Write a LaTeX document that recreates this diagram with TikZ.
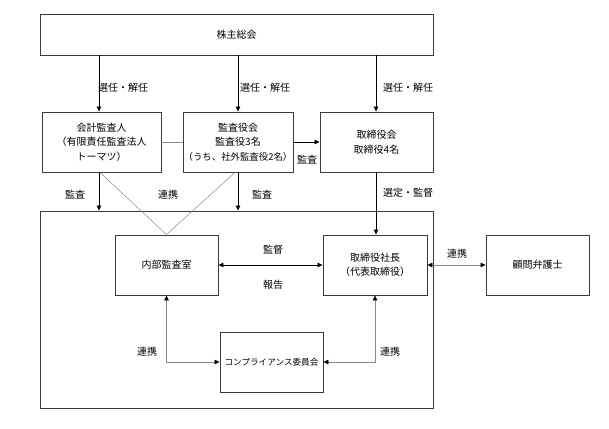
\documentclass[tikz,border=0pt]{standalone}
\usepackage{fontspec}
\newfontfamily\jp{Noto Sans CJK JP}
\usetikzlibrary{arrows.meta}
\definecolor{boxline}{HTML}{3A3A3A}
\definecolor{thin}{HTML}{8A8A8A}
\tikzset{
  box/.style={draw=boxline, line width=0.9pt, inner sep=0pt, align=center, font=\jp\fontsize{10}{14.5}\selectfont},
  lbl/.style={inner sep=0pt, font=\jp\fontsize{10}{12}\selectfont},
  arr/.style={draw=black, line width=0.8pt, -{Triangle[length=5pt,width=4.5pt]}},
  darr/.style={draw=black, line width=0.8pt, {Triangle[length=5pt,width=4.5pt]}-{Triangle[length=5pt,width=4.5pt]}},
  gline/.style={draw=thin, line width=0.5pt},
  gdarr/.style={draw=thin, line width=0.6pt, {Triangle[length=5pt,width=4.5pt,color=black]}-{Triangle[length=5pt,width=4.5pt,color=black]}},
}
\begin{document}
\begin{tikzpicture}[x=1pt,y=-1pt]
\useasboundingbox[fill=white] (0,0) rectangle (609,428);
% boxes
\node[box, minimum width=393pt, minimum height=41pt] (sh) at (236.5,34.5) {株主総会};
\node[box, minimum width=119pt, minimum height=60pt] (audit) at (101.5,142) {会計監査人\\（有限責任監査法人\\トーマツ）};
\node[box, minimum width=110pt, minimum height=60pt] (kansa) at (238,142) {監査役会\\監査役3名\\{\fontsize{9.4}{14.5}\selectfont（うち、社外監査役2名）}};
\node[box, minimum width=113pt, minimum height=60pt] (board) at (376.5,142) {取締役会\\取締役4名};
\node[box, minimum width=393pt, minimum height=197pt] (big) at (236.5,309.5) {};
\node[box, minimum width=103pt, minimum height=60pt] (naibu) at (166.5,265) {内部監査室};
\node[box, minimum width=104pt, minimum height=60pt] (pres) at (375,265) {取締役社長\\（代表取締役）};
\node[box, minimum width=103pt, minimum height=60pt] (lawyer) at (537.5,265) {顧問弁護士};
\node[box, minimum width=103pt, minimum height=60pt, font=\jp\fontsize{8.6}{12}\selectfont] (comp) at (271.5,362) {コンプライアンス委員会};
% connectors from top
\draw[arr] ([xshift=-2.5pt]audit.north |- sh.south) -- ([xshift=-2.5pt]audit.north);
\draw[arr] (kansa.north |- sh.south) -- (kansa.north);
\draw[arr] ([xshift=-0.5pt]board.north |- sh.south) -- ([xshift=-0.5pt]board.north);
\draw[gline] (audit.east) -- (kansa.west);
\draw[arr] (kansa.east) -- (board.west);
\draw[arr] ([xshift=-2.5pt]audit.south) -- ([xshift=-2.5pt]audit.south |- big.north);
\draw[arr] (kansa.south) -- (kansa.south |- big.north);
\draw[gline] ([xshift=-1.5pt]audit.south) -- (naibu.north);
\draw[gline] ([xshift=-3pt]kansa.south) -- (naibu.north);
\draw[arr] ([xshift=-0.5pt]board.south) -- ([xshift=-0.5pt]board.south |- pres.north);
\draw[darr] (naibu.east) -- (pres.west);
\draw[gdarr] (pres.east) -- (lawyer.west);
\draw[gdarr] (naibu.south) |- (comp.west);
\draw[gdarr] (pres.south) |- (comp.east);
% labels
\node[lbl] (l1) at (123,88) {選任・解任};
\node[lbl] (l2) at (265,88) {選任・解任};
\node[lbl] (l3) at (408,88) {選任・解任};
\node[lbl] (l4) at (307,160) {監査};
\node[lbl] (l5) at (75,195) {監査};
\node[lbl] (l6) at (168,195) {連携};
\node[lbl] (l7) at (262,195) {監査};
\node[lbl] (l8) at (408,193) {選定・監督};
\node[lbl] (l9) at (273,250) {監督};
\node[lbl] (l10) at (273,285) {報告};
\node[lbl] (l11) at (457,254) {連携};
\node[lbl] (l12) at (147,352) {連携};
\node[lbl] (l13) at (390,352) {連携};
\end{tikzpicture}
\end{document}
